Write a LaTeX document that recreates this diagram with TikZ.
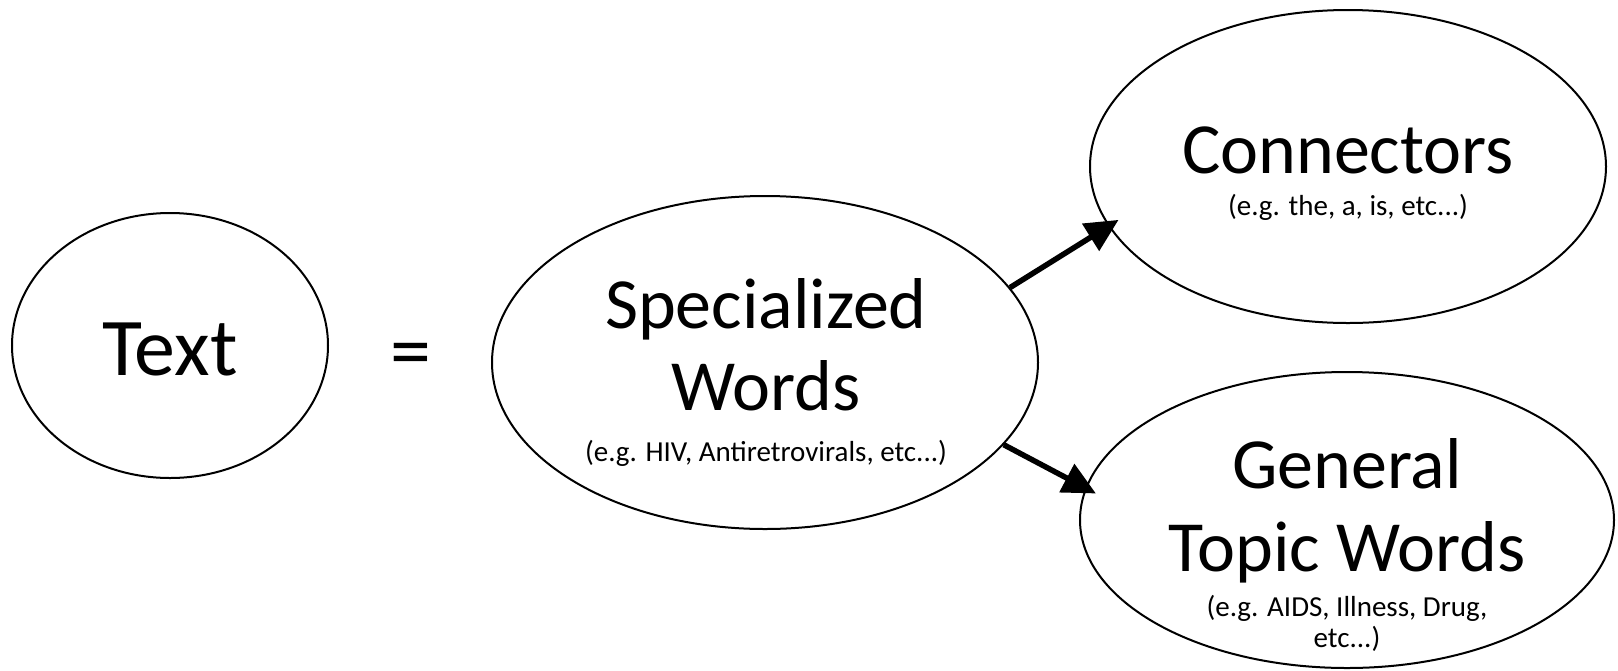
\documentclass[tikz,border=0pt]{standalone}
\usepackage{fontspec}
\setmainfont{Carlito}
\usetikzlibrary{shapes.geometric,arrows.meta}

\tikzset{
  bubble/.style={ellipse, draw, line width=1pt, inner sep=0pt},
  big/.style={font=\fontsize{36}{41}\selectfont, anchor=base, inner sep=0pt},
  small/.style={font=\fontsize{14.5}{15.5}\selectfont, anchor=base, inner sep=0pt},
  link/.style={line width=2.75pt, -{Triangle[length=16.5pt,width=15.5pt]}, shorten >=-6pt},
}

\begin{document}
\begin{tikzpicture}[x=0.5pt, y=-0.5pt]
    \useasboundingbox (0,0) rectangle (1618,670);

    % the four bubbles
    \node[bubble, minimum width=158pt, minimum height=132.5pt] (txt) at (170,345.5) {};
    \node[bubble, minimum width=273pt, minimum height=166.5pt] (spec) at (765,362.5) {};
    \node[bubble, minimum width=258pt, minimum height=156.5pt] (conn) at (1348,166.5) {};
    \node[bubble, minimum width=267pt, minimum height=148pt] (gen) at (1347,520) {};

    % labels
    \node[big, font=\fontsize{41}{41}\selectfont] (txtlabel) at (170,375) {Text};
    \node[big, font=\fontsize{41}{41}\selectfont] (equals) at (411,378) {=};
    \node[big] (spec1) at (766,328) {Specialized};
    \node[big] (spec2) at (766,410) {Words};
    \node[small] (spec3) at (766,461) {(e.g. HIV, Antiretrovirals, etc...)};
    \node[big] (conn1) at (1348,173) {Connectors};
    \node[small] (conn2) at (1348,215) {(e.g. the, a, is, etc...)};
    \node[big] (gen1) at (1347,488) {General};
    \node[big] (gen2) at (1347,571) {Topic Words};
    \node[small] (gen3) at (1347,616) {(e.g. AIDS, Illness, Drug,};
    \node[small] (gen4) at (1347,647) {etc...)};

    \draw[link] (spec.17) -- (conn.194);
    \draw[link] (spec.-19) -- (gen.173);
\end{tikzpicture}
\end{document}
